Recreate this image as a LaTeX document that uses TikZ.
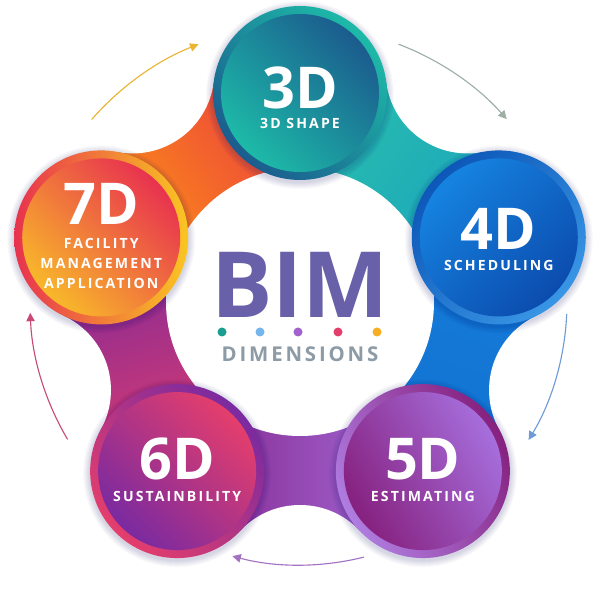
\documentclass[tikz,border=0pt]{standalone}
\usepackage{fontspec}
\setmainfont{Open Sans}
\usetikzlibrary{calc,arrows.meta}

\definecolor{bimtext}{HTML}{6860A8}
\definecolor{dimtext}{HTML}{8D9BA6}

\definecolor{tealA}{HTML}{1DBAA8}
\definecolor{tealB}{HTML}{1B5C8E}
\definecolor{blueA}{HTML}{1683E0}
\definecolor{blueB}{HTML}{0B4CAE}
\definecolor{violA}{HTML}{A66EDC}
\definecolor{violB}{HTML}{86217F}
\definecolor{pinkA}{HTML}{E43E6C}
\definecolor{pinkB}{HTML}{7A2AA0}
\definecolor{orngA}{HTML}{F8B82A}
\definecolor{orngB}{HTML}{E8324F}

\definecolor{arrA}{HTML}{E9B533}
\definecolor{arrB}{HTML}{9EAFA4}
\definecolor{arrC}{HTML}{6E9AD8}
\definecolor{arrD}{HTML}{A472C2}
\definecolor{arrE}{HTML}{C94A78}

\begin{document}
\begin{tikzpicture}[x=0.25mm,y=0.25mm,
  bigdim/.style={text=white,inner sep=0pt,anchor=base,font=\fontsize{41}{41}\selectfont\bfseries},
  subdim/.style={text=white,inner sep=0pt,align=center,font=\fontsize{10}{14.2}\selectfont\bfseries\addfontfeatures{LetterSpace=15}},
  cycle arrow/.style={line width=0.8pt,-{Triangle[length=6pt,width=6pt]}},
  soft/.style={fill=black!60!blue,opacity=0.025}]

\useasboundingbox (0,0) rectangle (596,598);
\fill[white] (0,0) rectangle (596,598);

\coordinate (c) at (300,296);
\coordinate (n3) at ($(c)+(90:209)$);
\coordinate (n4) at ($(c)+(18:209)$);
\coordinate (n5) at ($(c)+(-54:209)$);
\coordinate (n6) at ($(c)+(-126:209)$);
\coordinate (n7) at ($(c)+(162:209)$);

\coordinate (w34) at ($(c)+(54:285)$);
\coordinate (w45) at ($(c)+(-18:285)$);
\coordinate (w56) at ($(c)+(-90:285)$);
\coordinate (w67) at ($(c)+(-162:285)$);
\coordinate (w73) at ($(c)+(126:285)$);

% links between the discs
\shade[top color=tealA!95!white, bottom color=tealA!60!blueA, shading angle=54] (n3) -- (w34) -- (n4) -- (c) -- cycle;
\shade[top color=blueA!85!blueB, bottom color=blueA!70!blueB, shading angle=-18] (n4) -- (w45) -- (n5) -- (c) -- cycle;
\shade[top color=violA, bottom color=violB!70!pinkB, shading angle=-90] (n5) -- (w56) -- (n6) -- (c) -- cycle;
\shade[top color=pinkA, bottom color=pinkB!80!violB, shading angle=-162] (n6) -- (w67) -- (n7) -- (c) -- cycle;
\shade[top color=orngA!40!orange, bottom color=orngB!80!orange, shading angle=126] (n7) -- (w73) -- (n3) -- (c) -- cycle;

\foreach \w in {w34,w45,w56,w67,w73}
  \fill[white] (\w) circle (82);
\fill[white] (c) circle (134);

% soft shadows
\foreach \n in {n3,n4,n5,n6,n7}
  \foreach \k in {1,...,7}
    \fill[soft] ($(\n)+(0,-2)$) circle (87+\k);

% the discs
\shade[top color=tealA, bottom color=tealB, shading angle=-45] (n3) circle (87);
\shade[top color=tealB, bottom color=tealA, shading angle=-45] (n3) circle (79);

\shade[top color=blueB!80!blueA, bottom color=blueA!85!white, shading angle=45] (n4) circle (87);
\shade[top color=blueA, bottom color=blueB, shading angle=45] (n4) circle (79);

\shade[top color=violB, bottom color=violA!90!white, shading angle=-60] (n5) circle (87);
\shade[top color=violA, bottom color=violB, shading angle=-60] (n5) circle (79);

\shade[top color=pinkB, bottom color=pinkA, shading angle=-45] (n6) circle (87);
\shade[top color=pinkA, bottom color=pinkB, shading angle=-45] (n6) circle (79);

\shade[top color=orngA!80!yellow, bottom color=orngB, shading angle=-90] (n7) circle (87);
\shade[top color=orngB, bottom color=orngA, shading angle=-45] (n7) circle (79);

% labels
\node[bigdim] (big3) at ($(n3)+(0,-16)$) {3D};
\node[subdim,anchor=base] (sub3) at ($(n3)+(0,-36)$) {3D SHAPE};

\node[bigdim] (big4) at ($(n4)+(0,-12)$) {4D};
\node[subdim,anchor=base] (sub4) at ($(n4)+(0,-33)$) {SCHEDULING};

\node[bigdim] (big5) at ($(n5)+(0,-8)$) {5D};
\node[subdim,anchor=base] (sub5) at ($(n5)+(0,-30)$) {ESTIMATING};

\node[bigdim] (big6) at ($(n6)+(0,-8)$) {6D};
\node[subdim,anchor=base] (sub6) at ($(n6)+(0,-30)$) {SUSTAINBILITY};

\node[bigdim] (big7) at ($(n7)+(0,13)$) {7D};
\node[subdim,anchor=north] (sub7) at ($(n7)+(0,-1)$) {FACILITY\\MANAGEMENT\\APPLICATION};

% centre
\node[text=bimtext,inner sep=0pt,anchor=base,font=\fontsize{65}{65}\selectfont\bfseries] (bim) at (300,280) {BIM};
\node[text=dimtext,inner sep=0pt,anchor=base,font=\fontsize{14.5}{14.5}\selectfont\bfseries\addfontfeatures{LetterSpace=14}] (dims) at (300,236) {DIMENSIONS};
\fill[tealA!85!black] (222,266) circle (4.5);
\fill[blueA!60!white] (260,266) circle (4.5);
\fill[violA!85!violB] (298,266) circle (4.5);
\fill[pinkA] (338,266) circle (4.5);
\fill[orngA!80!orange] (377,266) circle (4.5);

% cycle arrows
\draw[cycle arrow,arrA] (c) ++(138.8:277) arc[start angle=138.8,end angle=111.5,radius=277];
\draw[cycle arrow,arrB] (c) ++(69.1:276) arc[start angle=69.1,end angle=41.5,radius=276];
\draw[cycle arrow,arrC] (c) ++(-2.6:267) arc[start angle=-2.6,end angle=-31.1,radius=267];
\draw[cycle arrow,arrD] (c) ++(-75.9:263) arc[start angle=-75.9,end angle=-104.9,radius=263];
\draw[cycle arrow,arrE] (c) ++(210.6:270) arc[start angle=210.6,end angle=182.3,radius=270];

\end{tikzpicture}
\end{document}
